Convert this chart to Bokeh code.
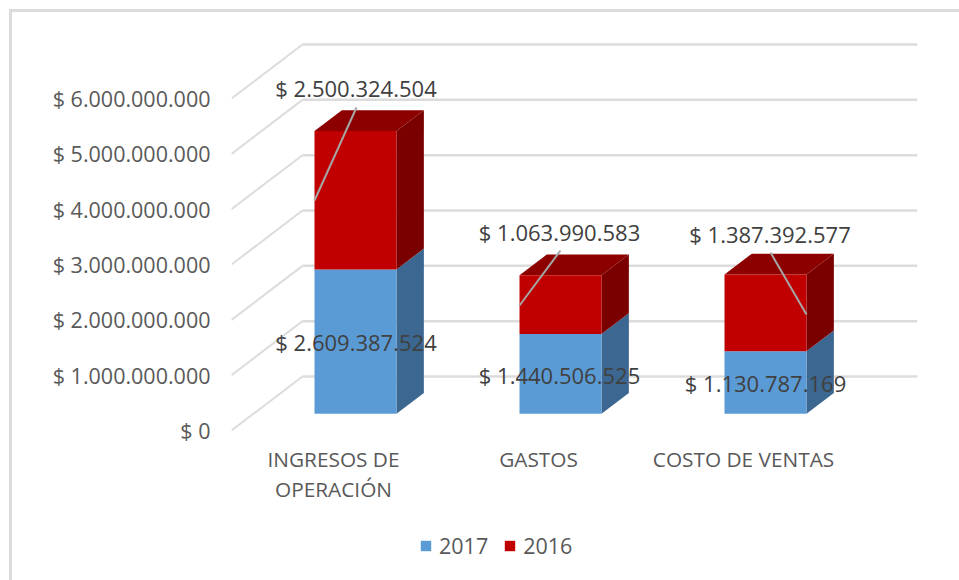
from bokeh.plotting import figure
from bokeh.models import ColumnDataSource, FixedTicker, Legend, LegendItem
from bokeh.core.properties import value
from bokeh.embed import file_html
from bokeh.resources import INLINE

# ---- data ----
categories = ["INGRESOS DE\nOPERACIÓN", "GASTOS", "COSTO DE VENTAS"]
series_names = ["2017", "2016"]
values_2017 = [2609387524, 1440506525, 1130787169]
values_2016 = [2500324504, 1063990583, 1387392577]
tick_values = [0, 1000000000, 2000000000, 3000000000, 4000000000, 5000000000, 6000000000]
tick_labels = ["$ 0", "$ 1.000.000.000", "$ 2.000.000.000", "$ 3.000.000.000",
               "$ 4.000.000.000", "$ 5.000.000.000", "$ 6.000.000.000"]

# ---- layout (page pixels) ----
W, H = 959, 580
F_L, F_R, F_T, ZERO_PX = 231, 917, 40, 430  # plot frame edges and the row of value 0
PX_PER_V = 55.33 / 1e9                      # pixels per value unit
PX_PER_CAT = 205
CAT0_PX = 333
WALL_DX, WALL_DY = 71 / PX_PER_CAT, 54 / PX_PER_V   # depth of the floor in data units
BAR_HALF = 41 / PX_PER_CAT
T_FRONT, T_BACK = 0.31, 0.695               # bar's near and far faces along the depth

BLUE, BLUE_SIDE = "#5b9bd5", "#3b6790"
RED, RED_TOP, RED_SIDE = "#c00000", "#8c0000", "#7a0000"
GRID = "#dcdcdc"
AXIS_TEXT, LABEL_TEXT = "#595959", "#404040"
FONT = "Open Sans"


def px_x(px):
    return (px - CAT0_PX) / PX_PER_CAT


def px_y(py):
    return (ZERO_PX - py) / PX_PER_V


def proj(x, v, t):
    return x + t * WALL_DX, v + t * WALL_DY


p = figure(width=W, height=H, output_backend="svg", toolbar_location=None,
           x_range=(px_x(F_L), px_x(F_R)), y_range=(px_y(H), px_y(F_T)),
           min_border_left=F_L, min_border_right=W - F_R,
           min_border_top=F_T, min_border_bottom=0,
           outline_line_color=None, border_fill_color=None, background_fill_color=None)
p.grid.visible = False
# chart-area border: top and left edges only
p.styles = {"background": f"linear-gradient({GRID},{GRID}) 9px 9px / 100% 3px no-repeat, "
                          f"linear-gradient({GRID},{GRID}) 9px 9px / 3px 100% no-repeat"}

# value axis
p.yaxis.ticker = FixedTicker(ticks=tick_values)
p.yaxis.major_label_overrides = {v: s for v, s in zip(tick_values, tick_labels)}
p.yaxis.axis_line_color = None
p.yaxis.major_tick_line_color = None
p.yaxis.minor_tick_line_color = None
p.yaxis.major_label_standoff = 15
p.yaxis.major_label_text_font = FONT
p.yaxis.major_label_text_font_size = "21.5px"
p.yaxis.major_label_text_color = AXIS_TEXT
p.xaxis.visible = False

# wall and floor lines
x_left = px_x(F_L)
x_right = px_x(F_R)
p.segment([x_left] * len(tick_values), tick_values,
          [x_left + WALL_DX] * len(tick_values), [v + WALL_DY for v in tick_values],
          line_color=GRID, line_width=2)
p.segment([x_left + WALL_DX] * len(tick_values), [v + WALL_DY for v in tick_values],
          [x_right] * len(tick_values), [v + WALL_DY for v in tick_values],
          line_color=GRID, line_width=2.5)

# category labels
cat_src = ColumnDataSource(dict(x=list(range(len(categories))), y=[px_y(444)] * len(categories), t=categories))
p.text("x", "y", text="t", source=cat_src, text_align="center", text_baseline="top",
       text_color=AXIS_TEXT, text_font=value(FONT), text_font_size="20.8px", text_line_height=1.08)

# bars
legend_items = []
base = [0] * len(categories)
for name, vals, front, side, top in ((series_names[0], values_2017, BLUE, BLUE_SIDE, None),
                                     (series_names[1], values_2016, RED, RED_SIDE, RED_TOP)):
    side_xs, side_ys, top_xs, top_ys, qs = [], [], [], [], dict(l=[], r=[], b=[], t=[])
    for i, (b, v) in enumerate(zip(base, vals)):
        l, r, t = i - BAR_HALF, i + BAR_HALF, b + v
        fl, fb = proj(l, b, T_FRONT)
        fr, _ = proj(r, b, T_FRONT)
        _, ft = proj(l, t, T_FRONT)
        bl, bb = proj(l, b, T_BACK)
        br, _ = proj(r, b, T_BACK)
        _, bt = proj(l, t, T_BACK)
        qs["l"].append(fl); qs["r"].append(fr); qs["b"].append(fb); qs["t"].append(ft)
        side_xs.append([fr, br, br, fr]); side_ys.append([fb, bb, bt, ft])
        top_xs.append([fl, fr, br, bl]); top_ys.append([ft, ft, bt, bt])
    p.patches(side_xs, side_ys, fill_color=side, line_color=None)
    if top:
        p.patches(top_xs, top_ys, fill_color=top, line_color=None)
    q = p.quad(left=qs["l"], right=qs["r"], bottom=qs["b"], top=qs["t"], fill_color=front, line_color=None)
    legend_items.append(LegendItem(label=name, renderers=[q]))
    base = [b + v for b, v in zip(base, vals)]


def money(v):
    return "$ " + f"{v:,}".replace(",", ".")


# leader lines (label end, bar end), page pixels
lead_px = [((356, 107), (314, 200)), ((560, 250), (519, 305)), ((770, 252), (806, 314))]
p.segment([px_x(a[0]) for a, _ in lead_px], [px_y(a[1]) for a, _ in lead_px],
          [px_x(b[0]) for _, b in lead_px], [px_y(b[1]) for _, b in lead_px],
          line_color="#a6a6a6", line_width=2)

# data labels, page pixels of their centres
label_px = [(355.5, 341), (559, 374), (765, 382), (355.5, 87.5), (559, 231), (769.5, 233)]
lab = ColumnDataSource(dict(x=[px_x(a) for a, _ in label_px], y=[px_y(b) for _, b in label_px],
                            t=[money(v) for v in values_2017 + values_2016]))
p.text("x", "y", text="t", source=lab, text_align="center", text_baseline="middle",
       text_color=LABEL_TEXT, text_font=value(FONT), text_font_size="22px")

legend = Legend(items=legend_items, orientation="horizontal", location=(188, 20),
                border_line_color=None, background_fill_alpha=0, padding=0, margin=0,
                glyph_width=13, glyph_height=13, label_standoff=7, spacing=15,
                label_text_font=FONT, label_text_font_size="21.5px", label_text_color=AXIS_TEXT)
p.add_layout(legend)

open("out.html", "w").write(file_html(p, INLINE))
